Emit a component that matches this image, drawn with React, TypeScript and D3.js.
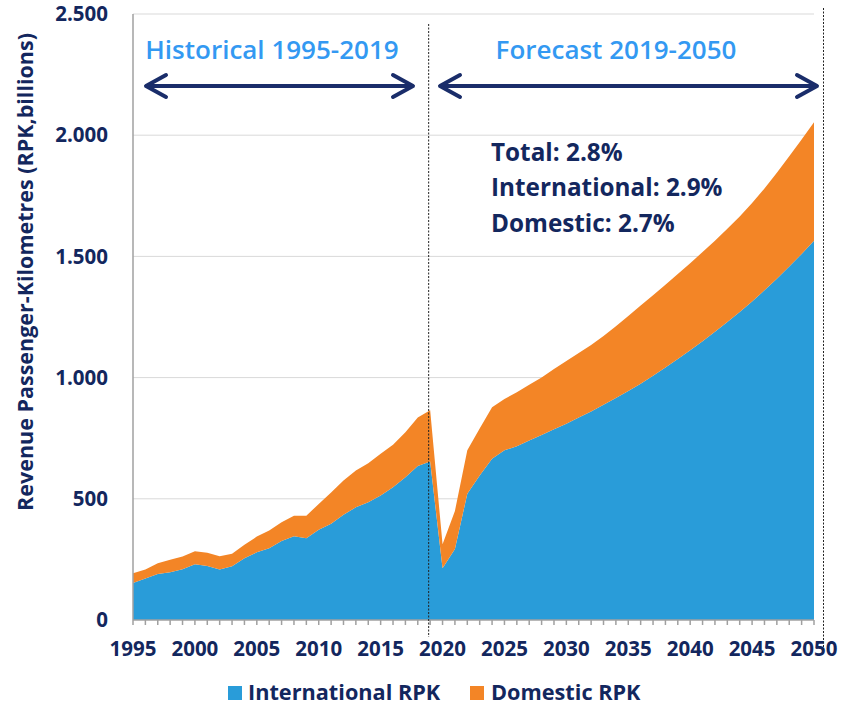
import React from 'react';
import * as d3 from 'd3';

const years = [
  1995, 1996, 1997, 1998, 1999, 2000, 2001, 2002, 2003, 2004, 2005, 2006, 2007, 2008,
  2009, 2010, 2011, 2012, 2013, 2014, 2015, 2016, 2017, 2018, 2019, 2020, 2021, 2022,
  2023, 2024, 2025, 2026, 2027, 2028, 2029, 2030, 2031, 2032, 2033, 2034, 2035, 2036,
  2037, 2038, 2039, 2040, 2041, 2042, 2043, 2044, 2045, 2046, 2047, 2048, 2049, 2050,
];

const internationalRPK = [
  153, 171, 190, 197, 209, 230, 223, 208, 222, 255, 279, 296, 326, 345,
  337, 372, 397, 434, 465, 486, 514, 548, 589, 635, 654, 213, 293, 521,
  596, 665, 700, 717, 741, 763, 787, 810, 835, 860, 888, 916, 945, 975,
  1008, 1042, 1077, 1113, 1150, 1189, 1229, 1271, 1314, 1360, 1408, 1458, 1510, 1565,
];

const domesticRPK = [
  40, 37, 44, 52, 53, 54, 54, 55, 51, 55, 65, 73, 77, 85,
  93, 107, 129, 142, 152, 161, 172, 175, 186, 200, 211, 99, 157, 179,
  194, 213, 212, 223, 229, 237, 248, 258, 266, 275, 284, 296, 309, 322,
  332, 341, 350, 359, 368, 376, 385, 394, 406, 420, 437, 455, 472, 488,
];

const yTicks = [0, 500, 1000, 1500, 2000, 2500];
const yTickLabels = ['0', '500', '1.000', '1.500', '2.000', '2.500'];
const xLabelYears = [1995, 2000, 2005, 2010, 2015, 2020, 2025, 2030, 2035, 2040, 2045, 2050];

const seriesNames = ['International RPK', 'Domestic RPK'];
const seriesColors = ['#299cd9', '#f38526'];
const growthNotes = ['Total: 2.8%', 'International: 2.9%', 'Domestic: 2.7%'];
const periodLabels = ['Historical 1995-2019', 'Forecast 2019-2050'];
const yAxisTitle = 'Revenue Passenger-Kilometres (RPK,billions)';

const NAVY = '#13275e';
const FONT = "'Open Sans', 'DejaVu Sans', sans-serif";

export default function App() {
  const left = 133;
  const right = 814;
  const top = 14;
  const bottom = 620;

  const x = d3.scaleLinear().domain([1995, 2050]).range([left, right]);
  const y = d3.scaleLinear().domain([0, 2500]).range([bottom, top]);

  const rows = years.map((yr, i) => ({
    year: yr,
    intl: internationalRPK[i],
    dom: domesticRPK[i],
  }));
  const stack = d3.stack<any>().keys(['intl', 'dom']);
  const stacked = stack(rows as any);
  const area = d3
    .area<any>()
    .x((d) => x(d.data.year))
    .y0((d) => y(d[0]))
    .y1((d) => y(d[1]))
    .curve(d3.curveLinear);

  const arrowY = 86;
  const head = (tipX: number, dir: number) =>
    `M${tipX - dir * 20},${arrowY - 11} L${tipX},${arrowY} L${tipX - dir * 20},${arrowY + 11}`;
  const arrow = (x1: number, x2: number) => (
    <g stroke="#1a2d6a" strokeWidth={4} fill="none" strokeLinecap="round" strokeLinejoin="round">
      <line x1={x1 + 2} y1={arrowY} x2={x2 - 2} y2={arrowY} />
      <path d={head(x1, -1)} />
      <path d={head(x2, 1)} />
    </g>
  );

  const divider1 = x(2019) - 1.5;
  const divider2 = x(2050) + 9.5;

  return (
    <svg
      width={841}
      height={706}
      style={{ position: 'absolute', left: 0, top: 0, background: '#fff' }}
      fontFamily={FONT}
    >
      {/* gridlines */}
      {yTicks.slice(1).map((t) => (
        <line key={t} x1={left} x2={right} y1={y(t)} y2={y(t)} stroke="#d9d9d9" strokeWidth={1} />
      ))}

      {/* areas */}
      {stacked.map((s, i) => (
        <path key={i} d={area(s as any) || ''} fill={seriesColors[i]} />
      ))}

      {/* axes */}
      <line x1={left} x2={left} y1={top} y2={bottom} stroke="#a0a0a0" strokeWidth={1.5} />
      <line x1={left} x2={right} y1={bottom} y2={bottom} stroke="#a0a0a0" strokeWidth={1.5} />
      {years.map((yr) => (
        <line key={yr} x1={x(yr)} x2={x(yr)} y1={bottom} y2={bottom + 5} stroke="#a0a0a0" strokeWidth={1.5} />
      ))}

      {/* y tick labels */}
      {yTicks.map((t, i) => (
        <text
          key={t}
          x={108}
          y={y(t)}
          dy="0.35em"
          textAnchor="end"
          fontSize={20.5}
          fontWeight={700}
          fill={NAVY}
        >
          {yTickLabels[i]}
        </text>
      ))}

      {/* x tick labels */}
      {xLabelYears.map((yr) => (
        <text key={yr} x={x(yr)} y={656} textAnchor="middle" fontSize={20.5} fontWeight={700} fill={NAVY}>
          {yr}
        </text>
      ))}

      {/* y axis title */}
      <text
        transform={`translate(33,${272}) rotate(-90)`}
        textAnchor="middle"
        fontSize={21.5}
        fontWeight={700}
        fill={NAVY}
      >
        {yAxisTitle}
      </text>

      {/* dividers */}
      <line x1={divider1} x2={divider1} y1={24} y2={637} stroke="#222" strokeWidth={1} strokeDasharray="2,1.5" />
      <line x1={divider2} x2={divider2} y1={8} y2={650} stroke="#222" strokeWidth={1} strokeDasharray="2,1.5" />

      {/* period labels */}
      <text x={272} y={58.5} textAnchor="middle" fontSize={26} fontWeight={600} fill="#3399f2">
        {periodLabels[0]}
      </text>
      <text x={616} y={58.5} textAnchor="middle" fontSize={26} fontWeight={600} fill="#3399f2">
        {periodLabels[1]}
      </text>
      {arrow(146, 413)}
      {arrow(440, 817)}

      {/* growth notes */}
      {growthNotes.map((t, i) => (
        <text key={t} x={491} y={160.5 + i * 35.5} fontSize={24.3} fontWeight={700} fill={NAVY}>
          {t}
        </text>
      ))}

      {/* legend */}
      <rect x={228} y={686} width={14} height={14} fill={seriesColors[0]} />
      <text x={248} y={700} fontSize={21.7} fontWeight={700} fill={NAVY}>
        {seriesNames[0]}
      </text>
      <rect x={470} y={686} width={14} height={14} fill={seriesColors[1]} />
      <text x={491} y={700} fontSize={21.7} fontWeight={700} fill={NAVY}>
        {seriesNames[1]}
      </text>
    </svg>
  );
}
